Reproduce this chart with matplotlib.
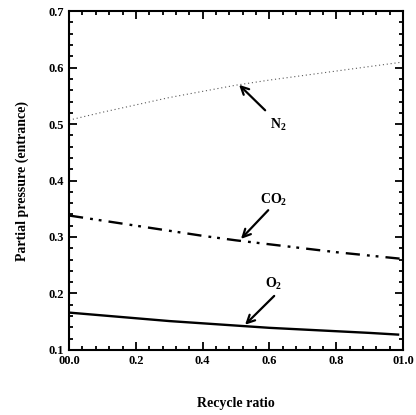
import matplotlib

matplotlib.use("Agg")
import matplotlib.pyplot as plt
from matplotlib.ticker import MultipleLocator, FixedFormatter, FixedLocator

recycle = [0.0, 0.1, 0.2, 0.3, 0.4, 0.5, 0.6, 0.7, 0.8, 0.9, 1.0]
n2 = [0.507, 0.521, 0.534, 0.547, 0.558, 0.569, 0.578, 0.586, 0.594, 0.602, 0.610]
co2 = [0.338, 0.329, 0.320, 0.311, 0.302, 0.294, 0.287, 0.280, 0.273, 0.267, 0.261]
o2_x = [0.0, 0.1, 0.2, 0.3, 0.4, 0.5, 0.6, 0.7, 0.8, 0.9, 0.985]
o2 = [0.166, 0.161, 0.156, 0.151, 0.147, 0.143, 0.139, 0.136, 0.133, 0.130, 0.127]

xticks = [0.0, 0.2, 0.4, 0.6, 0.8, 1.0]
xtick_labels = ["00.0", "0.2", "0.4", "0.6", "0.8", "01.0"]
yticks = [0.1, 0.2, 0.3, 0.4, 0.5, 0.6, 0.7]

plt.rcParams["font.family"] = "Liberation Serif"
plt.rcParams["font.weight"] = "bold"
plt.rcParams["mathtext.fontset"] = "custom"
plt.rcParams["mathtext.rm"] = "Liberation Serif:bold"
plt.rcParams["mathtext.bf"] = "Liberation Serif:bold"
plt.rcParams["mathtext.it"] = "Liberation Serif:bold"

fig = plt.figure(figsize=(4.16, 4.15), dpi=100)
ax = fig.add_axes([0.166, 0.157, 0.803, 0.816])

ax.plot(recycle, n2, color="0.35", lw=0.8, linestyle=(0, (1, 2.5)))
ax.plot(recycle, co2, color="black", lw=1.7, linestyle=(0, (6, 3, 1.2, 2.5, 1.2, 3)))
ax.plot(o2_x, o2, color="black", lw=1.7)

ax.set_xlim(0, 1.0)
ax.set_ylim(0.1, 0.7)
ax.xaxis.set_major_locator(FixedLocator(xticks))
ax.xaxis.set_major_formatter(FixedFormatter(xtick_labels))
ax.xaxis.set_minor_locator(MultipleLocator(0.04))
ax.set_yticks(yticks)
ax.yaxis.set_minor_locator(MultipleLocator(0.02))
ax.tick_params(which="both", direction="in", top=True, right=True, width=1.3,
               labelsize=9)
ax.tick_params(which="major", length=6)
ax.tick_params(which="minor", length=3)
for s in ax.spines.values():
    s.set_linewidth(1.5)
for lab in ax.get_xticklabels() + ax.get_yticklabels():
    lab.set_fontweight("bold")

ax.set_xlabel("Recycle ratio", fontsize=10, fontweight="bold", labelpad=22)
ax.set_ylabel("Partial pressure (entrance)", fontsize=10, fontweight="bold", labelpad=14)

arrow = dict(arrowstyle="->", lw=1.6, color="black", mutation_scale=14)
ax.annotate("", xy=(0.503, 0.573), xytext=(0.593, 0.521), arrowprops=arrow)
ax.text(0.626, 0.498, r"N$_2$", ha="center", va="center", fontsize=10, fontweight="bold")
ax.annotate("", xy=(0.509, 0.293), xytext=(0.602, 0.351), arrowprops=arrow)
ax.text(0.611, 0.365, r"CO$_2$", ha="center", va="center", fontsize=10, fontweight="bold")
ax.annotate("", xy=(0.521, 0.141), xytext=(0.620, 0.199), arrowprops=arrow)
ax.text(0.611, 0.217, r"O$_2$", ha="center", va="center", fontsize=10, fontweight="bold")

fig.savefig("out.png", dpi=100)
